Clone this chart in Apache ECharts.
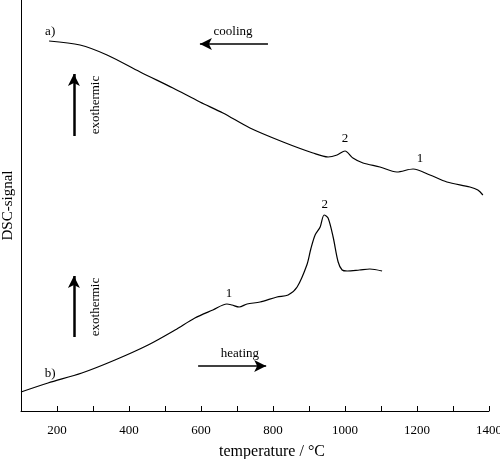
<!DOCTYPE html>
<html><head><meta charset="utf-8">
<script src="https://cdn.jsdelivr.net/npm/echarts@6/dist/echarts.min.js"></script>
<style>html,body{margin:0;padding:0;background:#fff}#c{width:500px;height:459px}</style>
</head><body><div id="c"></div>
<script>
// cooling curve (a)
const coolingT = [178, 264, 339, 431, 522, 597, 661, 736, 828, 911, 953, 978, 1000, 1022, 1050, 1097, 1144, 1189, 1236, 1283, 1347, 1369, 1383];
const coolingV = [370, 366, 356, 339, 323, 309, 298, 283, 269, 258, 254, 256, 260, 253, 248, 244, 239, 242, 236, 229, 224, 221, 216];
// heating curve (b)
const heatingT = [100, 175, 269, 361, 453, 528, 583, 633, 672, 686, 706, 728, 764, 811, 842, 867, 894, 905, 917, 931, 942, 953, 967, 981, 992, 1006, 1040, 1069, 1103];
const heatingV = [19, 28, 38, 51, 66, 81, 93, 101, 107, 106, 104, 107, 109, 114, 116, 124, 146, 162, 176, 184, 196, 193, 174, 149, 141, 140, 141, 142, 140];
const xTicks = [200, 400, 600, 800, 1000, 1200, 1400];

// annotation texts [T, value, text, rotated]
const labels = [
  [181, 379, 'a)', false],
  [689, 379, 'cooling', false],
  [308, 306, 'exothermic', true],
  [1000, 272, '2', false],
  [1208, 252, '1', false],
  [308, 104, 'exothermic', true],
  [181, 37, 'b)', false],
  [708, 57, 'heating', false],
  [678, 117, '1', false],
  [944, 206, '2', false]
];
// arrows [fromT, fromV, toT, toV, width]
const arrows = [
  [786, 367, 597, 367, 1.5],
  [247, 275, 247, 337, 2.5],
  [247, 74, 247, 135, 2.5],
  [592, 45, 781, 45, 1.5]
];

const FONT = 'Liberation Serif';
const chart = echarts.init(document.getElementById('c'));
const zip = (a, b) => a.map((v, i) => [v, b[i]]);
chart.setOption({
  animation: false,
  grid: {left: 21, right: 11, top: 0, bottom: 48, outerBoundsMode: 'none', containLabel: false},
  xAxis: {
    type: 'value', min: 100, max: 1400, interval: 100,
    axisLine: {lineStyle: {color: '#000', width: 1}},
    axisTick: {inside: true, length: 5, lineStyle: {color: '#000'}},
    axisLabel: {margin: 13, color: '#000', fontFamily: FONT, fontSize: 13,
      formatter: v => (xTicks.indexOf(v) >= 0 ? String(v) : '')},
    splitLine: {show: false},
    name: 'temperature / °C', nameLocation: 'middle', nameGap: 33,
    nameTextStyle: {color: '#000', fontFamily: FONT, fontSize: 16, padding: [0, 0, 0, 34]}
  },
  yAxis: {
    type: 'value', min: 0, max: 411,
    axisLine: {show: true, lineStyle: {color: '#000', width: 1}},
    axisTick: {show: false}, axisLabel: {show: false}, splitLine: {show: false},
    name: 'DSC-signal', nameLocation: 'middle', nameGap: 5,
    nameTextStyle: {color: '#000', fontFamily: FONT, fontSize: 15}
  },
  series: [
    {type: 'line', data: zip(coolingT, coolingV), showSymbol: false, smooth: 0.3,
     lineStyle: {color: '#000', width: 1.2},
     markLine: {silent: true, symbol: ['none', 'arrow'], symbolSize: [9, 12], label: {show: false},
       data: arrows.map(a => [{coord: [a[0], a[1]], lineStyle: {width: a[4], color: '#000', type: 'solid'}}, {coord: [a[2], a[3]]}])}},
    {type: 'line', data: zip(heatingT, heatingV), showSymbol: false, smooth: 0.3,
     lineStyle: {color: '#000', width: 1.2}}
  ]
});
chart.setOption({
  graphic: labels.map(l => {
    const p = chart.convertToPixel({gridIndex: 0}, [l[0], l[1]]);
    return {type: 'text', x: p[0], y: p[1], rotation: l[3] ? Math.PI / 2 : 0,
      style: {text: l[2], fill: '#000', font: '13px "' + FONT + '"', align: 'center', verticalAlign: 'middle'}};
  })
});
</script></body></html>
